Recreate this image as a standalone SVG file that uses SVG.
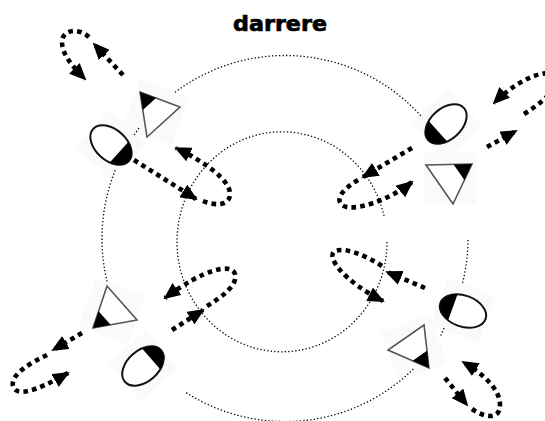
<svg xmlns="http://www.w3.org/2000/svg" width="545" height="421" viewBox="0 0 545 421">
<style>
.bg{fill:#fafafa;stroke:none}
.ring{fill:none;stroke:#000;stroke-width:1.3;stroke-dasharray:1.3 2.2}
.step{fill:none;stroke:#000;stroke-width:4.6;stroke-dasharray:4.6 4.2}
.tri{fill:#fff;stroke:#555;stroke-width:1.6}
.ell{fill:#fff;stroke:#111;stroke-width:2}
.blk{fill:#000;stroke:none}
.title{font-family:"DejaVu Sans",sans-serif;font-weight:bold;font-size:21px;fill:#000;stroke:#000;stroke-width:0.7}
</style>
<defs>
<marker id="ah" markerUnits="userSpaceOnUse" markerWidth="17" markerHeight="15" refX="15" refY="7.5" orient="auto">
<path d="M0,0 L17,7.5 L0,15 Z" fill="#000"/>
</marker>
<path id="cap" d="M10.8,-13.8 A24,15.5 0 0 1 10.8,13.8 Z"/>
</defs>
<rect width="545" height="421" fill="#fff"/>
<text class="title" x="233" y="31" textLength="94" lengthAdjust="spacingAndGlyphs">darrere</text>
<g id="backgrounds">
<rect class="bg" x="-26" y="-26" width="52" height="52" transform="translate(156,112) rotate(20)"/>
<rect class="bg" x="-25" y="-25" width="50" height="50" transform="translate(111,145) rotate(42)"/>
<rect class="bg" x="-25" y="-25" width="50" height="50" transform="translate(446,124) rotate(138)"/>
<rect class="bg" x="-26" y="-26" width="52" height="52" transform="translate(450,178) rotate(0)"/>
<rect class="bg" x="-26" y="-26" width="52" height="52" transform="translate(112,311) rotate(20)"/>
<rect class="bg" x="-25" y="-25" width="50" height="50" transform="translate(143,366) rotate(-41)"/>
<rect class="bg" x="-25" y="-25" width="50" height="50" transform="translate(463,311) rotate(20)"/>
<rect class="bg" x="-26" y="-26" width="52" height="52" transform="translate(414,348) rotate(-20)"/>
</g>
<g id="circles">
<path class="ring" d="M175,92.3 A183,183 0 0 1 421,116"/>
<path class="ring" d="M468,240 A183,183 0 0 1 462.6,282.8"/>
<path class="ring" d="M413.3,369 A183,183 0 0 1 184.5,391.5"/>
<path class="ring" d="M107.1,281.5 A183,183 0 0 1 115.3,170"/>
<path class="ring" d="M134.2,134.9 A183,183 0 0 1 139.8,127.1"/>
<path class="ring" d="M444,328 A183,183 0 0 1 440,337"/>
<path class="ring" d="M387,242 A105,110 0 1 1 384.3,217"/>
</g>
<g id="connectors">
<path class="step" d="M123,75 L94,44" marker-end="url(#ah)"/>
<path class="step" d="M89,37 C78,27 62,30 62,42 C62,55 74,68 85,79" marker-end="url(#ah)"/>
<path class="step" d="M134,160 L196,199" marker-end="url(#ah)"/>
<path class="step" d="M203,201 C215,206 230,206 230,194 C230,180 205,162 176,148" marker-end="url(#ah)"/>
<path class="step" d="M412,148 L363,177" marker-end="url(#ah)"/>
<path class="step" d="M358,180 C346,187 334,198 342,205 C352,213 390,200 412,182" marker-end="url(#ah)"/>
<path class="step" d="M487,147 L516,131" marker-end="url(#ah)"/>
<path class="step" d="M524,114 C550,98 565,80 552,74 C538,70 512,85 494,103" marker-end="url(#ah)"/>
<path class="step" d="M82,333 L53,350" marker-end="url(#ah)"/>
<path class="step" d="M47,355 C30,363 10,375 13,386 C16,397 35,392 68,373" marker-end="url(#ah)"/>
<path class="step" d="M172,330 L203,310" marker-end="url(#ah)"/>
<path class="step" d="M207,306 C222,297 238,285 235,274 C232,263 205,268 165,298" marker-end="url(#ah)"/>
<path class="step" d="M425,288 L387,272" marker-end="url(#ah)"/>
<path class="step" d="M382,266 C365,255 345,247 335,251 C325,257 345,282 383,301" marker-end="url(#ah)"/>
<path class="step" d="M445,378 L467,405" marker-end="url(#ah)"/>
<path class="step" d="M472,409 C485,418 500,420 500,405 C500,390 485,375 463,362" marker-end="url(#ah)"/>
</g>
<g id="tl-woman">
<polygon class="tri" points="140,92 180,107 147,137"/>
<polygon class="blk" points="140,92 156,98 142.8,110"/>
</g>
<g id="tl-man" transform="translate(111,145) rotate(42)">
<ellipse class="ell" rx="24" ry="15.5"/>
<use href="#cap" class="blk"/>
</g>
<g id="tr-man" transform="translate(446,124) rotate(138)">
<ellipse class="ell" rx="24" ry="15.5"/>
<use href="#cap" class="blk"/>
</g>
<g id="tr-woman">
<polygon class="tri" points="472,164 426,165 453,204"/>
<polygon class="blk" points="472,164 453.6,164.4 464.4,180"/>
</g>
<g id="bl-woman">
<polygon class="tri" points="93,328 107,286 137,320"/>
<polygon class="blk" points="93,328 98.6,311.2 110.6,324.8"/>
</g>
<g id="bl-man" transform="translate(143,366) rotate(-41)">
<ellipse class="ell" rx="24" ry="15.5"/>
<use href="#cap" class="blk"/>
</g>
<g id="br-man" transform="translate(463,311) rotate(200)">
<ellipse class="ell" rx="24" ry="15.5"/>
<use href="#cap" class="blk"/>
</g>
<g id="br-woman">
<polygon class="tri" points="429,368 424,325 388,350"/>
<polygon class="blk" points="429,368 427,350.8 412.6,360.8"/>
</g>
</svg>
